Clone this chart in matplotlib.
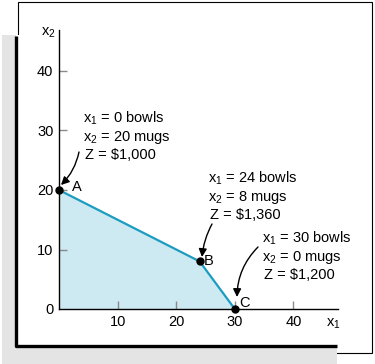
import matplotlib
matplotlib.use("Agg")
import matplotlib.pyplot as plt
from matplotlib.patches import Rectangle

plt.rcParams['font.family'] = ['Liberation Sans', 'DejaVu Sans']
plt.rcParams['mathtext.default'] = 'regular'

# corner points of the feasible region
names = ['A', 'B', 'C']
x1 = [0, 24, 30]
x2 = [20, 8, 0]
profit = ['$1,000', '$1,360', '$1,200']

x_ticks = [10, 20, 30, 40]
y_ticks = [0, 10, 20, 30, 40]

W, H = 375, 364
fig = plt.figure(figsize=(W / 100, H / 100), dpi=100)


def fig_xy(px, py):
    # pixel position measured from the top-left corner -> figure fraction
    return px / W, 1 - py / H


def rect(x0, y0, x1_, y1_, **kw):
    fig.add_artist(Rectangle((x0 / W, 1 - y1_ / H), (x1_ - x0) / W, (y1_ - y0) / H,
                             transform=fig.transFigure, **kw))


# frame with drop shadow
rect(18, 2, 372, 353, facecolor='white', edgecolor='black', linewidth=0.8, zorder=0)
rect(2, 35, 337, 364, facecolor='#e4e4e4', edgecolor='none', zorder=0)
rect(16, 35, 337, 346, facecolor='white', edgecolor='none', zorder=0)
fig.add_artist(plt.Line2D([16 / W, 16 / W, 337 / W], [1 - 36 / H, 1 - 346 / H, 1 - 346 / H],
                          transform=fig.transFigure, color='black', linewidth=2.4,
                          solid_capstyle='butt', zorder=0))

ax = fig.add_axes([59 / W, 55 / H, 279 / W, 279 / H])
ax.patch.set_visible(False)
ax.set_xlim(0, 279 / 5.86)
ax.set_ylim(0, 279 / 5.95)
for s in ['top', 'right']:
    ax.spines[s].set_visible(False)
for s in ['left', 'bottom']:
    ax.spines[s].set_linewidth(1.0)

ax.set_xticks(x_ticks)
ax.set_yticks(y_ticks)
ax.tick_params(direction='in', length=6, width=1, color='#8a8a8a', labelsize=10.5, pad=4)
ax.yaxis.get_major_ticks()[0].tick1line.set_visible(False)

# feasible region
ax.fill([0] + x1, [0] + x2, color='#cde9f2', linewidth=0, zorder=1)
ax.plot(x1, x2, color='#1c9cc0', linewidth=1.6, zorder=2, clip_on=False)
ax.plot(x1, x2, 'o', color='black', markersize=5, zorder=3, clip_on=False)

# axis labels
fig.text(*fig_xy(41, 33), r'$x_2$', fontsize=10.5, ha='left', va='center')
fig.text(*fig_xy(326, 324), r'$x_1$', fontsize=10.5, ha='left', va='center')

# point labels and annotations
label_pos = [(72, 187), (204, 261), (239, 303)]
text_pos = [(83, 118), (208, 178), (262, 238)]
arrows = [((79, 152), (61, 185), -0.15), ((212, 224), (202, 257), 0.1), ((258, 247), (237, 297), 0.2)]
bowls = [f'{v} bowls' for v in x1]
mugs = [f'{v} mugs' for v in x2]

for i in range(3):
    lx, ly = label_pos[i]
    fig.text(*fig_xy(lx, ly), names[i], fontsize=10.5, ha='left', va='center')
    tx, ty = text_pos[i]
    fig.text(*fig_xy(tx, ty), r'$x_1$ = ' + bowls[i], fontsize=10.5, ha='left', va='center')
    fig.text(*fig_xy(tx, ty + 19), r'$x_2$ = ' + mugs[i], fontsize=10.5, ha='left', va='center')
    fig.text(*fig_xy(tx + 2, ty + 37), 'Z = ' + profit[i].replace('$', r'\$'), fontsize=10.5,
             ha='left', va='center')
    (sx, sy), (ex, ey), rad = arrows[i]
    ax.annotate('', xy=fig_xy(ex, ey), xycoords='figure fraction',
                xytext=fig_xy(sx, sy), textcoords='figure fraction',
                arrowprops=dict(arrowstyle='-|>', color='black', lw=1.0,
                                mutation_scale=12, shrinkA=0, shrinkB=0,
                                connectionstyle=f'arc3,rad={rad}'))

fig.savefig('out.png', dpi=100, facecolor='white')
